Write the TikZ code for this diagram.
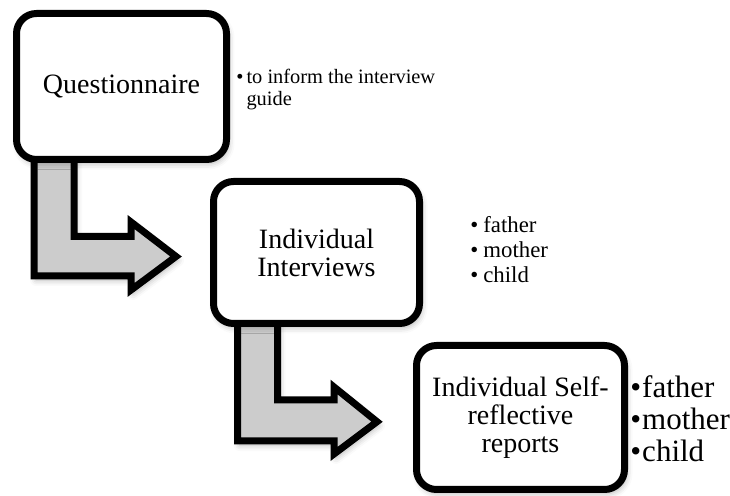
\documentclass[tikz,border=0pt]{standalone}
\usepackage{fontspec}
\setmainfont{Liberation Serif}
\usetikzlibrary{positioning,shadows.blur,backgrounds}

\tikzset{
  softshadow/.style={blur shadow={shadow xshift=1pt, shadow yshift=-2pt, shadow blur radius=3pt, shadow opacity=30}},
  stage/.style={draw=black, line width=3.5pt, rounded corners=10pt, fill=white, align=center,
    minimum width=104pt, minimum height=72pt, font=\fontsize{14}{14}\selectfont, softshadow},
  bentarrow/.style={draw=black, line width=3.5pt, fill=gray!40, line join=miter, softshadow},
  notes/.style={inner sep=0pt, anchor=west}
}

\begin{document}
\begin{tikzpicture}[x=0.5pt, y=-0.5pt]
        \useasboundingbox (0,0) rectangle (730,496);

        % the three steps
        \node [stage, minimum width=105pt, minimum height=73pt] (quest) at (121.5,86.5) {Questionnaire};
        \node [stage, minimum width=103pt, minimum height=71pt] (inter) at (316.5,252.5) {Individual\\Interviews};
        \node [stage] (report) at (520.5,417.5) {Individual Self-\\reflective\\reports};

        % bent arrows, behind the boxes
        \begin{scope}[on background layer]
        \draw [bentarrow] ([shift={(21,-13)}]quest.south west) -- ++(0,126) -- ++(97,0) -- ++(0,14) -- ++(45,-33.5)
              -- ++(-45,-34.5) -- ++(0,14.5) -- ++(-57,0) -- ++(0,-86.5) -- cycle;
        \draw [bentarrow] ([shift={(27.5,-9)}]inter.south west) -- ++(0,123) -- ++(96.5,0) -- ++(0,13) -- ++(43,-32.3)
              -- ++(-43,-34.7) -- ++(0,13) -- ++(-56.5,0) -- ++(0,-82) -- cycle;
        \end{scope}

        % notes beside the steps
        \node [notes, right=3pt of quest, yshift=-2pt, font=\fontsize{10.2}{11}\selectfont] (questnote)
              {\begin{tabular}{@{}l@{\hspace{1.5pt}}l@{}}\textbullet & to inform the interview\\ & guide\end{tabular}};
        \node [notes, right=23.5pt of inter, font=\fontsize{11.4}{12.5}\selectfont] (internote)
              {\begin{tabular}{@{}l@{\hspace{2.5pt}}l@{}}\textbullet & father\\ \textbullet & mother\\ \textbullet & child\end{tabular}};
        \node [notes, right=1pt of report, yshift=-3pt, font=\fontsize{15.5}{16}\selectfont] (reportnote)
              {\begin{tabular}{@{}l@{\hspace{0.5pt}}l@{}}\textbullet & father\\ \textbullet & mother\\ \textbullet & child\end{tabular}};
\end{tikzpicture}
\end{document}
